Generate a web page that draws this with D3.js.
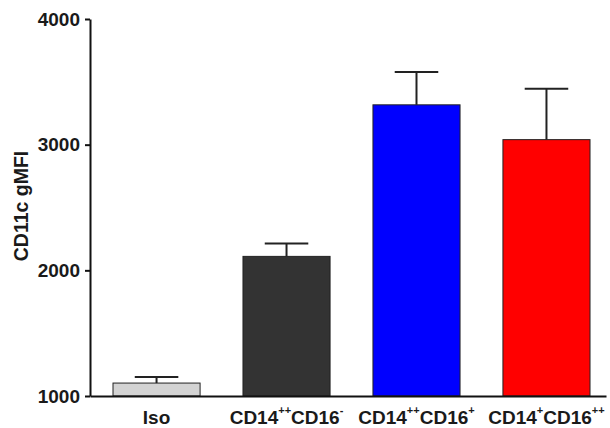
<!DOCTYPE html>
<html>
<head>
<meta charset="utf-8">
<script src="https://cdn.jsdelivr.net/npm/d3@7"></script>
<style>
  body { margin: 0; background: #fff; }
  text { font-family: Arial, "Liberation Sans", sans-serif; font-weight: bold; fill: #1a1a1a; }
</style>
</head>
<body>
<div id="chart"></div>
<script>
//////////////////// Data ////////////////////
const categories = ['Iso', 'CD14++CD16-', 'CD14++CD16+', 'CD14+CD16++']
// label pieces: [text, isSuperscript]
const labelParts = [
  [['Iso', false]],
  [['CD14', false], ['++', true], ['CD16', false], ['-', true]],
  [['CD14', false], ['++', true], ['CD16', false], ['+', true]],
  [['CD14', false], ['+', true], ['CD16', false], ['++', true]]
]
const means = [1103, 2111, 3317, 3040]
const sems = [48, 103, 262, 404]
const barColors = ['#d3d3d3', '#333333', '#0000ff', '#ff0000']
const yTicks = [1000, 2000, 3000, 4000]

//////////////////// Constants ////////////////////
const width = 610
const height = 428
const axisColour = '#111'

const svg = d3.select('#chart').append('svg')
  .attr('width', width)
  .attr('height', height)

const x = d3.scaleBand()
  .domain(categories)
  .range([90, 606])
  .paddingInner(0.33)
  .paddingOuter(0.15)
  .align(0.59)

const y = d3.scaleLinear()
  .domain([1000, 4000])
  .range([396, 19])

const data = categories.map((c, i) => ({cat: c, mean: means[i], sem: sems[i], color: barColors[i], parts: labelParts[i]}))

// bars
svg.selectAll('.bar')
  .data(data)
  .join('rect')
    .attr('class', 'bar')
    .attr('x', d => x(d.cat))
    .attr('y', d => y(d.mean))
    .attr('width', x.bandwidth())
    .attr('height', d => y(1000) - y(d.mean))
    .attr('fill', d => d.color)
    .attr('stroke', '#222')
    .attr('stroke-width', 1)

// error bars (upper only)
const err = svg.selectAll('.err')
  .data(data)
  .join('g')
    .attr('class', 'err')
    .attr('stroke', '#222')
    .attr('stroke-width', 2)
err.append('line')
  .attr('x1', d => x(d.cat) + x.bandwidth() / 2)
  .attr('x2', d => x(d.cat) + x.bandwidth() / 2)
  .attr('y1', d => y(d.mean))
  .attr('y2', d => y(d.mean + d.sem))
err.append('line')
  .attr('x1', d => x(d.cat) + x.bandwidth() / 4)
  .attr('x2', d => x(d.cat) + x.bandwidth() * 3 / 4)
  .attr('y1', d => y(d.mean + d.sem))
  .attr('y2', d => y(d.mean + d.sem))

// y axis
const gy = svg.append('g')
  .attr('transform', 'translate(90,0)')
  .call(d3.axisLeft(y).tickValues(yTicks).tickSize(5).tickSizeOuter(0).tickPadding(5).tickFormat(d3.format('d')))
gy.select('.domain').attr('stroke', axisColour).attr('stroke-width', 2)
gy.selectAll('.tick line').attr('stroke', axisColour).attr('stroke-width', 2)
gy.selectAll('.tick text')
  .attr('font-size', 19)
  .attr('font-family', 'Arial, "Liberation Sans", sans-serif')
  .attr('fill', '#1a1a1a')

// x axis
const gx = svg.append('g')
  .attr('transform', `translate(0,${y(1000)})`)
  .call(d3.axisBottom(x).tickSize(0).tickSizeOuter(0).tickFormat(''))
gx.select('.domain').attr('stroke', axisColour).attr('stroke-width', 2)

// x labels with superscripts
const labels = svg.selectAll('.xlabel')
  .data(data)
  .join('text')
    .attr('class', 'xlabel')
    .attr('x', d => x(d.cat) + x.bandwidth() / 2)
    .attr('y', 424)
    .attr('text-anchor', 'middle')
    .attr('font-size', 19)
labels.selectAll('tspan')
  .data(d => d.parts)
  .join('tspan')
    .attr('font-size', p => p[1] ? 11 : 19)
    .attr('dy', (p, i, nodes) => {
      const prevSup = i > 0 && d3.select(nodes[i - 1]).datum()[1]
      if (p[1] && !prevSup) return -10
      if (!p[1] && prevSup) return 10
      return 0
    })
    .text(p => p[0])

// y title
svg.append('text')
  .attr('transform', 'translate(28,206) rotate(-90)')
  .attr('text-anchor', 'middle')
  .attr('font-size', 19.5)
  .text('CD11c gMFI')
</script>
</body>
</html>
